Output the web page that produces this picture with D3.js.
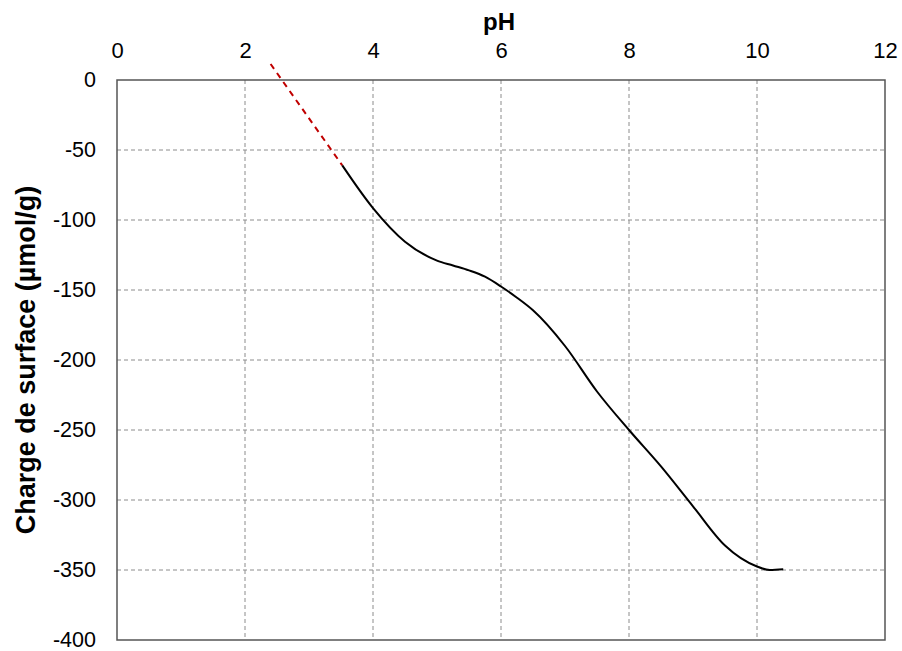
<!DOCTYPE html>
<html><head><meta charset="utf-8">
<script src="https://cdn.jsdelivr.net/npm/d3@7"></script>
<style>body{margin:0;background:#fff}svg{display:block}text{font-family:"Liberation Sans",Arial,sans-serif}</style>
</head><body>
<script>
const xTicks = [0, 2, 4, 6, 8, 10, 12];
const yTicks = [0, -50, -100, -150, -200, -250, -300, -350, -400];
const curvePH = [3.52, 4.0, 4.5, 5.0, 5.25, 5.5, 5.75, 6.0, 6.25, 6.5, 7.0, 7.5, 8.0, 8.5, 9.0, 9.5, 10.0, 10.2, 10.41];
const curveCharge = [-61, -91.5, -115.5, -129, -132.5, -136, -140.5, -147.5, -155.5, -164.5, -190, -222.5, -250, -276, -304.5, -332.5, -347.5, -350, -349.5];
const extrapPH = [2.4, 3.52];
const extrapCharge = [11.4, -61];

const W = 902, H = 651;
const FONT = "Liberation Sans, Arial, sans-serif";
const svg = d3.select("body").append("svg").attr("width", W).attr("height", H);
const x = d3.scaleLinear().domain([0, 12]).range([117, 885]);
const y = d3.scaleLinear().domain([-400, 0]).range([640, 80]);
const fmt = d => String(d).replace("\u2212", "-");

// grid
const g = svg.append("g");
g.selectAll(".vg").data(xTicks.filter(t => t > 0 && t < 12)).enter().append("line")
  .attr("x1", d => x(d)).attr("x2", d => x(d)).attr("y1", y(0)).attr("y2", y(-400))
  .attr("stroke", "#8c8c8c").attr("stroke-width", 1).attr("stroke-dasharray", "4,3");
g.selectAll(".hg").data(yTicks.filter(t => t < 0 && t > -400)).enter().append("line")
  .attr("x1", x(0)).attr("x2", x(12)).attr("y1", d => y(d)).attr("y2", d => y(d))
  .attr("stroke", "#8c8c8c").attr("stroke-width", 1).attr("stroke-dasharray", "4,3");

// frame
svg.append("rect").attr("x", x(0)).attr("y", y(0)).attr("width", x(12) - x(0)).attr("height", y(-400) - y(0))
  .attr("fill", "none").attr("stroke", "#555").attr("stroke-width", 1.5);

// axes (top x, left y)
const xAxis = d3.axisTop(x).tickValues(xTicks).tickSize(0).tickPadding(22).tickFormat(fmt);
const xa = svg.append("g").attr("transform", `translate(0,${y(0)})`).call(xAxis);
xa.select(".domain").remove();
xa.selectAll("text").attr("font-size", 22).attr("fill", "#000").style("font-family", FONT);

const yAxis = d3.axisLeft(y).tickValues(yTicks).tickSize(0).tickPadding(21).tickFormat(fmt);
const ya = svg.append("g").attr("transform", `translate(${x(0)},0)`).call(yAxis);
ya.select(".domain").remove();
ya.selectAll("text").attr("font-size", 21.5).attr("dy", "0.29em").attr("fill", "#000").style("font-family", FONT);

// titles
svg.append("text").attr("x", 499).attr("y", 30).attr("text-anchor", "middle")
  .attr("font-size", 24).attr("font-weight", "bold").text("pH");
svg.append("text").attr("transform", `translate(35,360) rotate(-90)`).attr("text-anchor", "middle")
  .attr("font-size", 27).attr("font-weight", "bold").text("Charge de surface (µmol/g)");

// red dashed extrapolation
const line = d3.line().x(d => x(d[0])).y(d => y(d[1]));
svg.append("path").datum(d3.zip(extrapPH, extrapCharge)).attr("d", line)
  .attr("fill", "none").attr("stroke", "#c00000").attr("stroke-width", 2).attr("stroke-dasharray", "6,5");

// black curve
const sm = d3.line().x(d => x(d[0])).y(d => y(d[1])).curve(d3.curveMonotoneX);
svg.append("path").datum(d3.zip(curvePH, curveCharge)).attr("d", sm)
  .attr("fill", "none").attr("stroke", "#000").attr("stroke-width", 2);
</script>
</body></html>
